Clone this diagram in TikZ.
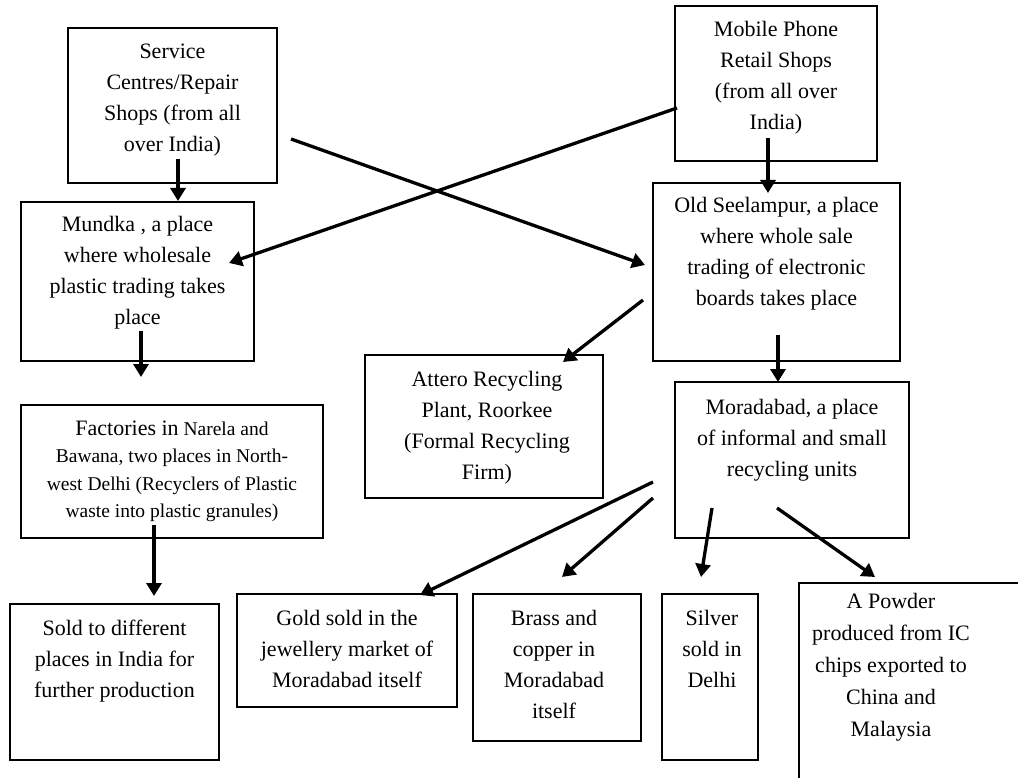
\documentclass[tikz,border=0pt]{standalone}
\usepackage{fontspec}
\setmainfont{Liberation Serif}
\usetikzlibrary{arrows.meta}
\newcommand\mylines[1]{\begin{tabular}[t]{@{}c@{}}#1\end{tabular}}
\begin{document}
\begin{tikzpicture}[x=1pt,y=-1pt,
  box/.style={draw, line width=1.4pt, inner sep=0pt, outer sep=0pt, anchor=north west},
  txt/.style={inner sep=0pt, anchor=base, font=\fontsize{22}{31}\selectfont},
  smalltxt/.style={inner sep=0pt, anchor=base, font=\fontsize{19.5}{27.5}\selectfont},
  arr/.style={line width=3.3pt, -{Triangle[length=13pt,width=15pt]}}]
\useasboundingbox (0,0) rectangle (1018,778);
\fill[white] (0,0) rectangle (1018,778);
\clip (0,0) rectangle (1018,778);

% boxes
\node[box, minimum width=209pt, minimum height=155pt] (svc) at (68,28) {};
\node[box, minimum width=202pt, minimum height=155pt] (mob) at (675,6) {};
\node[box, minimum width=233pt, minimum height=159pt] (mun) at (21,202) {};
\node[box, minimum width=247pt, minimum height=178pt] (see) at (653,183) {};
\node[box, minimum width=238pt, minimum height=143pt] (att) at (365,355) {};
\node[box, minimum width=234pt, minimum height=156pt] (mor) at (675,382) {};
\node[box, minimum width=302pt, minimum height=133pt] (fac) at (21,405) {};
\node[box, minimum width=209pt, minimum height=156pt] (sold) at (10,604) {};
\node[box, minimum width=220pt, minimum height=113pt] (gold) at (237,594) {};
\node[box, minimum width=168pt, minimum height=147pt] (brass) at (473,594) {};
\node[box, minimum width=96pt, minimum height=166pt] (silver) at (662,594) {};
\node[box, minimum width=240pt, minimum height=220pt] (powder) at (799,583) {};

% texts
\node[txt] (svc-t) at ([yshift=-31pt]svc.north) {\mylines{Service\\Centres/Repair\\Shops (from all\\over India)}};
\node[txt] (mob-t) at ([yshift=-31pt]mob.north) {\mylines{Mobile Phone\\Retail Shops\\(from all over\\India)}};
\node[txt] (mun-t) at ([yshift=-30pt]mun.north) {\mylines{Mundka , a place\\where wholesale\\plastic trading takes\\place}};
\node[txt] (see-t) at ([yshift=-30pt]see.north) {\mylines{Old Seelampur, a place\\where whole sale\\trading of electronic\\boards takes place}};
\node[txt] (att-t) at ([xshift=3pt,yshift=-31pt]att.north) {\mylines{Attero Recycling\\Plant, Roorkee\\(Formal Recycling\\Firm)}};
\node[txt] (mor-t) at ([yshift=-32pt]mor.north) {\mylines{Moradabad, a place\\of informal and small\\recycling units}};
\node[smalltxt] (fac-t) at ([yshift=-30pt]fac.north) {\mylines{{\fontsize{22}{27.5}\selectfont Factories in} Narela and\\Bawana, two places in North-\\west Delhi (Recyclers of Plastic\\waste into plastic granules)}};
\node[txt] (sold-t) at ([yshift=-31pt]sold.north) {\mylines{Sold to different\\places in India for\\further production}};
\node[txt] (gold-t) at ([yshift=-31pt]gold.north) {\mylines{Gold sold in the\\jewellery market of\\Moradabad itself}};
\node[txt] (brass-t) at ([xshift=-3pt,yshift=-31pt]brass.north) {\mylines{Brass and\\copper in\\Moradabad\\itself}};
\node[txt] (silver-t) at ([xshift=2pt,yshift=-31pt]silver.north) {\mylines{Silver\\sold in\\Delhi}};
\node[txt, font=\fontsize{22}{32}\selectfont] (powder-t) at (891,608) {\mylines{A Powder\\produced from IC\\chips exported to\\China and\\Malaysia}};

% arrow end points
\coordinate (a1s) at (178,159); \coordinate (a1e) at (178,201);
\coordinate (a2s) at (768,138); \coordinate (a2e) at (768,193);
\coordinate (a3s) at (291,139); \coordinate (a3e) at (645,265);
\coordinate (a4s) at (677,108); \coordinate (a4e) at (229,263);
\coordinate (a5s) at (141,331); \coordinate (a5e) at (141,377);
\coordinate (a6s) at (643,300); \coordinate (a6e) at (563,362);
\coordinate (a7s) at (778,335); \coordinate (a7e) at (778,382);
\coordinate (a8s) at (154,525); \coordinate (a8e) at (154,596);
\coordinate (a9s) at (653,482); \coordinate (a9e) at (420,595);
\coordinate (a10s) at (653,498); \coordinate (a10e) at (562,577);
\coordinate (a11s) at (712,508); \coordinate (a11e) at (701,577);
\coordinate (a12s) at (777,508); \coordinate (a12e) at (875,577);

\draw[arr] (a1s) -- (a1e);
\draw[arr] (a2s) -- (a2e);
\draw[arr] (a3s) -- (a3e);
\draw[arr] (a4s) -- (a4e);
\draw[arr] (a5s) -- (a5e);
\draw[arr] (a6s) -- (a6e);
\draw[arr] (a7s) -- (a7e);
\draw[arr] (a8s) -- (a8e);
\draw[arr] (a9s) -- (a9e);
\draw[arr] (a10s) -- (a10e);
\draw[arr] (a11s) -- (a11e);
\draw[arr] (a12s) -- (a12e);
\end{tikzpicture}
\end{document}
